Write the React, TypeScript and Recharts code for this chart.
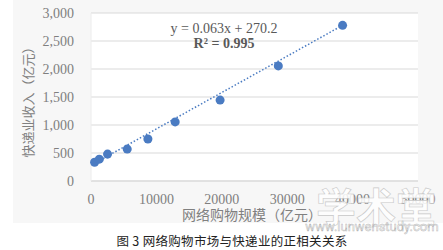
import { ScatterChart, Scatter, XAxis, YAxis, CartesianGrid } from 'recharts'

// 网络购物规模 (x) vs 快递业收入 (y), 亿元
const shopping = [550, 1270, 2530, 5540, 8700, 12870, 19740, 28640, 38470]
const express = [335, 390, 480, 570, 750, 1055, 1445, 2055, 2780]
const trendX = [450, 38470]
const trendY = [310, 2780]
const xTicks = [0, 10000, 20000, 30000, 40000, 50000]
const yTicks = [0, 500, 1000, 1500, 2000, 2500, 3000]

const points = shopping.map((x, i) => ({ x, y: express[i] }))
const trend = trendX.map((x, i) => ({ x, y: trendY[i] }))

const serif = '"Liberation Serif", "DejaVu Serif", serif'
const cjk = '"Noto Sans CJK SC", sans-serif'
const blue = '#4a7bc2'

export default function App() {
  return (
    <div style={{ position: 'absolute', left: 0, top: 0, width: 443, height: 250, background: '#fff' }}>
      <div style={{ position: 'absolute', left: 13, top: 0, width: 430, height: 223, background: '#f7f7f7' }} />
      <div style={{ position: 'absolute', left: 0, top: 0 }}>
        <ScatterChart width={443} height={250} margin={{ top: 13, right: 25, bottom: 0, left: 0 }}>
          <CartesianGrid vertical={false} stroke="#d9d9d9" fill="#fff" />
          <XAxis
            type="number"
            dataKey="x"
            domain={[0, 50000]}
            ticks={xTicks}
            height={69}
            tickSize={0}
            tickMargin={13}
            axisLine={{ stroke: '#d9d9d9' }}
            tick={{ fill: '#7f7f7f', fontSize: 14, fontFamily: serif }}
            interval={0}
          />
          <YAxis
            type="number"
            dataKey="y"
            domain={[0, 3000]}
            ticks={yTicks}
            width={91}
            tickSize={0}
            tickMargin={17}
            axisLine={{ stroke: '#ececec' }}
            tick={{ fill: '#7f7f7f', fontSize: 14, fontFamily: serif }}
            tickFormatter={(v: number) => v.toLocaleString('en-US')}
            interval={0}
          />
          <Scatter
            data={trend}
            line={{ stroke: blue, strokeWidth: 1.5, strokeDasharray: '1.5 2' }}
            shape={() => <g />}
            isAnimationActive={false}
          />
          <Scatter data={points} fill={blue} shape="circle" isAnimationActive={false} />
        </ScatterChart>
      </div>
      <svg width={443} height={250} style={{ position: 'absolute', left: 0, top: 0, pointerEvents: 'none' }}>
        <text x={224} y={33} textAnchor="middle" fontFamily={serif} fontSize={14} fill="#595959">
          y = 0.063x + 270.2
        </text>
        <text x={224} y={48} textAnchor="middle" fontFamily={serif} fontSize={14} fontWeight="bold" fill="#595959">
          R² = 0.995
        </text>
        <text
          x={27}
          y={99}
          textAnchor="middle"
          dominantBaseline="central"
          transform="rotate(-90 27 99)"
          fontFamily={cjk}
          fontSize={13}
          fill="#808080"
        >
          快递业收入（亿元）
        </text>
        <text x={252} y={220} textAnchor="middle" fontFamily={cjk} fontSize={14} fill="#808080">
          网络购物规模（亿元）
        </text>
        <text x={376} y={222} textAnchor="middle" fontFamily={cjk} fontSize={40} fontWeight="bold" fill="#fff" fillOpacity={0.85} stroke="#c8c8c8" strokeWidth={0.6}>
          学术堂
        </text>
        <text x={372} y={231} textAnchor="middle" fontFamily="Roboto, sans-serif" fontSize={13} fill="#fff" stroke="#b8b8b8" strokeWidth={0.5}>
          www.lunwenstudy.com
        </text>
        <text x={232} y={246} textAnchor="middle" fontFamily={cjk} fontSize={12.5} fill="#222" letterSpacing={0.3}>
          图 3 网络购物市场与快递业的正相关关系
        </text>
      </svg>
    </div>
  )
}
